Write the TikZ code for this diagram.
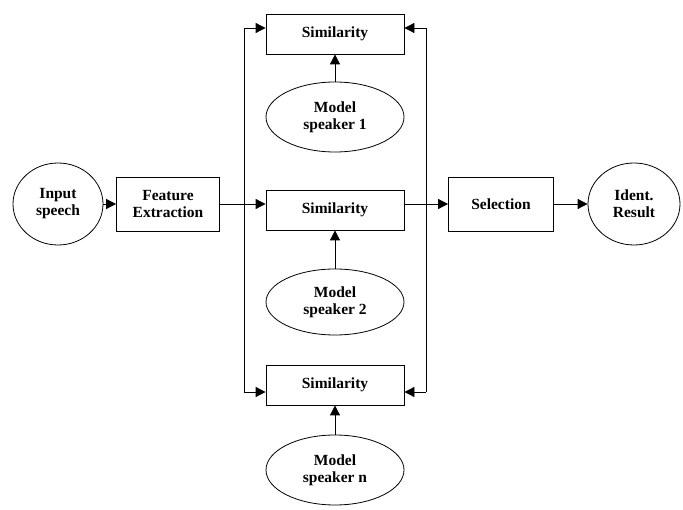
\documentclass[tikz,border=0pt]{standalone}
\usepackage{fontspec}
\setmainfont{Liberation Serif}
\usepackage{tikz}
\usetikzlibrary{shapes.geometric, arrows.meta, positioning, calc}
\tikzstyle{block} = [rectangle, draw=black, line width=0.8pt, align=center, font=\fontsize{15.5}{17}\selectfont\bfseries]
\tikzstyle{spk} = [ellipse, draw=black, line width=0.8pt, inner sep=0pt, align=center, font=\fontsize{15.5}{17}\selectfont\bfseries]
\tikzstyle{arrow} = [line width=0.8pt, -{Triangle[length=10pt,width=10pt]}]
\tikzstyle{bus} = [line width=0.8pt]

\begin{document}
\begin{tikzpicture}[x=1pt, y=-1pt]
        \useasboundingbox (0,0) rectangle (683,510);
        % Input side
        \node (inspeech) [spk, minimum width=90pt, minimum height=82pt] at (58,204) {Input\\speech};
        \node (feat) [block, minimum width=103pt, minimum height=54pt, right of=inspeech, node distance=110pt] {Feature\\Extraction};

        % Similarity blocks
        \node (sim1) [block, minimum width=138pt, minimum height=40pt] at (335,34) {Similarity};
        \node (sim2) [block, minimum width=138pt, minimum height=40pt] at (335,210) {Similarity};
        \node (sim3) [block, minimum width=138pt, minimum height=40pt] at (335,385) {Similarity};

        % Speaker models
        \node (model1) [spk, minimum width=138pt, minimum height=70pt, below of=sim1, node distance=83pt] {Model\\speaker 1};
        \node (model2) [spk, minimum width=138pt, minimum height=66pt, below of=sim2, node distance=92pt] {Model\\speaker 2};
        \node (modeln) [spk, minimum width=138pt, minimum height=70pt, below of=sim3, node distance=85pt] {Model\\speaker n};

        % Output side
        \node (sel) [block, minimum width=105pt, minimum height=54pt] at (501,204) {Selection};
        \node (ident) [spk, minimum width=92pt, minimum height=82pt, right of=sel, node distance=133pt] {Ident.\\Result};

        % Bus corners
        \coordinate (ltop) at (244,28);
        \coordinate (lbot) at (244,392);
        \coordinate (rtop) at (426,28);
        \coordinate (rbot) at (426,392);

        % Arrows
        \draw [arrow] (inspeech) -- (feat);
        \draw [bus] (ltop) -- (lbot);
        \draw [bus] (rtop) -- (rbot);
        \draw [arrow] (feat) -- (feat -| sim2.west);
        \draw [arrow] (ltop) -- (ltop -| sim1.west);
        \draw [arrow] (lbot) -- (lbot -| sim3.west);
        \draw [arrow] (rtop) -- (rtop -| sim1.east);
        \draw [arrow] (rbot) -- (rbot -| sim3.east);
        \draw [arrow] (sim2.east |- sel) -- (sel);
        \draw [arrow] (model1) -- (sim1);
        \draw [arrow] (model2) -- (sim2);
        \draw [arrow] (modeln) -- (sim3);
        \draw [arrow] (sel) -- (ident);
      \end{tikzpicture}
\end{document}
